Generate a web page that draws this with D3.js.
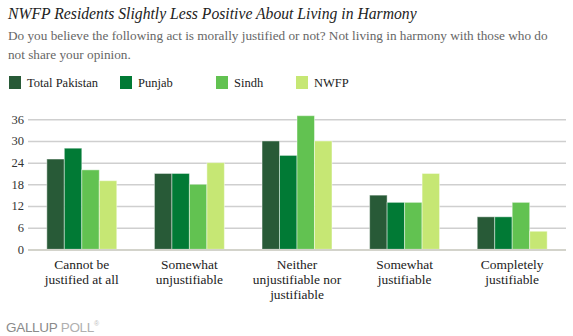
<!DOCTYPE html>
<html><head><meta charset="utf-8">
<script src="https://cdn.jsdelivr.net/npm/d3@7"></script>
<style>body{margin:0;background:#fff}svg{display:block}</style>
</head><body>
<svg id="c" width="573" height="336"></svg>
<script>
const categories = [["Cannot be","justified at all"],["Somewhat","unjustifiable"],["Neither","unjustifiable nor","justifiable"],["Somewhat","justifiable"],["Completely","justifiable"]];
const seriesNames = ["Total Pakistan","Punjab","Sindh","NWFP"];
const totalPakistan = [25,21,30,15,9];
const punjab = [28,21,26,13,9];
const sindh = [22,18,37,13,13];
const nwfp = [19,24,30,21,5];
const yTicks = [0,6,12,18,24,30,36];
const colors = ["#285a37","#017a35","#62c251","#c6e774"];
const series = [totalPakistan,punjab,sindh,nwfp];

const svg = d3.select("#c");
const SERIF = '"Liberation Serif", "Times New Roman", serif';
const left=28, right=566, y0=249.3, yTop=119.3;
const y = d3.scaleLinear().domain([0,36]).range([y0,yTop]);
const x0 = d3.scaleBand().domain(d3.range(categories.length)).range([left,right]).paddingInner(0.35).paddingOuter(0.175);
const x1 = d3.scaleBand().domain(d3.range(series.length)).range([0,x0.bandwidth()]);

// find font size so that a sample string has the target width
function sizeFor(text, target, italic){
  const t = svg.append("text").style("font-family",SERIF).style("font-size","20px").style("font-style",italic?"italic":"normal").text(text);
  const w = t.node().getComputedTextLength(); t.remove();
  return (20*target/w)+"px";
}
const titleFs = sizeFor("NWFP Residents Slightly Less Positive About Living in Harmony", 409, true);
const subFs = sizeFor("Do you believe the following act is morally justified or not? Not living in harmony with those who do", 540);
const legFs = sizeFor("Total Pakistan", 71);
const catFs = sizeFor("justified at all", 74);

svg.append("text").attr("x",8).attr("y",19).style("font-family",SERIF).style("font-style","italic").style("font-size",titleFs).attr("fill","#222")
  .text("NWFP Residents Slightly Less Positive About Living in Harmony");
svg.append("text").attr("x",8).attr("y",40).style("font-family",SERIF).style("font-size",subFs).attr("fill","#666")
  .text("Do you believe the following act is morally justified or not? Not living in harmony with those who do");
svg.append("text").attr("x",8).attr("y",59).style("font-family",SERIF).style("font-size",subFs).attr("fill","#666").text("not share your opinion.");

const legX=[9,120,216,296];
seriesNames.forEach((n,i)=>{
  svg.append("rect").attr("x",legX[i]).attr("y",76).attr("width",12).attr("height",13).attr("fill",colors[i]);
  svg.append("text").attr("x",legX[i]+18).attr("y",86.5).style("font-family",SERIF).style("font-size",legFs).attr("fill","#222").text(n);
});

const yAxis = d3.axisLeft(y).tickValues(yTicks).tickSize(-(right-left)).tickPadding(5);
const ga = svg.append("g").attr("transform",`translate(${left},0)`).call(yAxis);
ga.select(".domain").remove();
ga.selectAll(".tick line").attr("stroke","#cfcfcf").attr("stroke-width",1.5);
ga.selectAll(".tick text").style("font-family",SERIF).style("font-size",legFs).attr("fill","#333").attr("x",-4);
ga.selectAll(".tick").filter(d=>d===0).select("line").remove();

categories.forEach((c,ci)=>{
  series.forEach((s,si)=>{
    svg.append("rect").attr("x",x0(ci)+x1(si)).attr("y",y(s[ci])).attr("width",x1.bandwidth()).attr("height",y0-y(s[ci]))
      .attr("fill",colors[si]).attr("stroke","rgba(255,255,255,0.45)").attr("stroke-width",1);
  });
});
svg.append("line").attr("x1",left).attr("x2",right).attr("y1",y0+0.7).attr("y2",y0+0.7).attr("stroke","#d3d3cb").attr("stroke-width",2.2);

categories.forEach((c,ci)=>{
  const t = svg.append("text").attr("text-anchor","middle").style("font-family",SERIF).style("font-size",catFs).attr("fill","#222");
  c.forEach((l,li)=>t.append("tspan").attr("x",x0(ci)+x0.bandwidth()/2).attr("y",269+li*15).text(l));
});

const g = svg.append("text").attr("x",6).attr("y",332).style("font-family",'"Liberation Sans", Arial, sans-serif').style("font-size","13.5px").style("letter-spacing","-0.3px");
g.append("tspan").attr("fill","#8a8a8a").text("GALLUP ");
g.append("tspan").attr("fill","#b0b0b0").text("POLL");
g.append("tspan").attr("fill","#c0c0c0").style("font-size","7px").attr("dy",-6).text("®");
</script>
</body></html>
